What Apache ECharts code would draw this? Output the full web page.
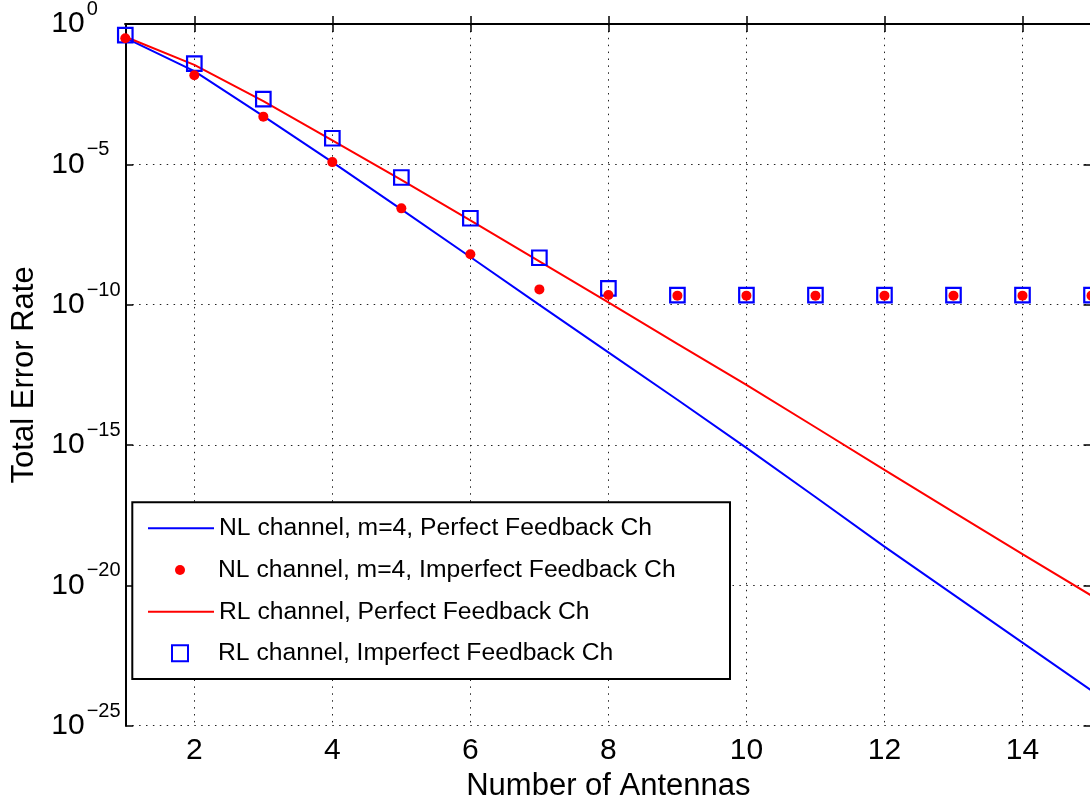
<!DOCTYPE html>
<html>
<head>
<meta charset="utf-8">
<script src="https://cdn.jsdelivr.net/npm/echarts@6/dist/echarts.min.js"></script>
<style>
  html, body { margin: 0; padding: 0; background: #fff; }
  #chart { width: 1090px; height: 803px; }
</style>
</head>
<body>
<div id="chart"></div>
<script>
// ---- data ----
const antennas = [1, 2, 3, 4, 5, 6, 7, 8, 9, 10, 11, 12, 13, 14, 15];
const xTicks = [2, 4, 6, 8, 10, 12, 14];
const seriesNames = [
  'NL channel, m=4, Perfect Feedback Ch',
  'NL channel, m=4, Imperfect Feedback Ch',
  'RL channel, Perfect Feedback Ch',
  'RL channel, Imperfect Feedback Ch'
];
const nlPerfect = [3.2e-1, 2.1e-2, 5.2e-4, 1.2e-5, 2.5e-7, 5.0e-9, 9.8e-11, 2.0e-12,
  4.1e-14, 7.9e-16, 1.4e-17, 2.4e-19, 4.7e-21, 9.1e-23, 1.8e-24];
const nlImperfect = [3.1e-1, 1.5e-2, 5.0e-4, 1.2e-5, 2.7e-7, 6.3e-9, 3.5e-10, 2.2e-10,
  2.1e-10, 2.1e-10, 2.1e-10, 2.1e-10, 2.1e-10, 2.1e-10, 2.1e-10];
const rlPerfect = [3.5e-1, 3.5e-2, 1.8e-3, 7.1e-5, 2.8e-6, 1.0e-7, 3.5e-9, 1.2e-10,
  4.0e-12, 1.4e-13, 4.3e-15, 1.3e-16, 4.1e-18, 1.3e-19, 4.3e-21];
const rlImperfect = [4.0e-1, 3.9e-2, 2.1e-3, 8.5e-5, 3.4e-6, 1.2e-7, 4.7e-9, 3.8e-10,
  2.2e-10, 2.2e-10, 2.2e-10, 2.2e-10, 2.2e-10, 2.2e-10, 2.2e-10];
const yExpMin = -25, yExpMax = 0, yExpStep = 5;

// ---- build ----
const FONT = "'Liberation Sans', Arial, Helvetica, sans-serif";
const toPts = arr => antennas.map((x, i) => [x, Math.log10(arr[i])]);
const BLUE = '#0000ff', RED = '#ff0000';

const chart = echarts.init(document.getElementById('chart'), null, { renderer: 'canvas' });

const dotted = { color: '#222', width: 1, type: [1.5, 5.4] };
const hidden = { color: 'rgba(0,0,0,0)', borderWidth: 0, opacity: 0 };

const legendRowCenters = [528.3, 570, 611.7, 653.3];
const legendIconH = [14, 12.5, 14, 20];
const legendItemStyles = [
  { lineStyle: { color: BLUE, width: 2 }, itemStyle: hidden },
  { lineStyle: { opacity: 0, width: 0 }, itemStyle: { color: RED, borderWidth: 0 } },
  { lineStyle: { color: RED, width: 2 }, itemStyle: hidden },
  { lineStyle: { opacity: 0, width: 0 }, itemStyle: { color: 'rgba(0,0,0,0)', borderColor: BLUE, borderWidth: 2 } }
];

const option = {
  animation: false,
  backgroundColor: '#fff',
  grid: { left: 125.3, right: -1.5, top: 24, bottom: 77.3, containLabel: false, outerBoundsMode: 'none' },
  xAxis: [
    {
      type: 'value', min: 1, max: 15, position: 'bottom',
      name: 'Number of Antennas', nameLocation: 'middle', nameGap: 43,
      nameTextStyle: { fontSize: 31, fontFamily: FONT, color: '#000' },
      axisLine: { show: true, lineStyle: { color: '#000', width: 2 } },
      axisTick: { show: true, inside: true, length: 8, customValues: xTicks, lineStyle: { color: '#000', width: 1.5 } },
      axisLabel: { show: true, customValues: xTicks, margin: 10, fontSize: 30, fontFamily: FONT, color: '#000' },
      splitLine: { show: true, lineStyle: dotted }
    },
    {
      type: 'value', min: 1, max: 15, position: 'top',
      axisLine: { show: true, lineStyle: { color: '#000', width: 2 } },
      axisTick: { show: true, inside: true, length: 8, customValues: xTicks, lineStyle: { color: '#000', width: 1.5 } },
      axisLabel: { show: false },
      splitLine: { show: false }
    }
  ],
  yAxis: [
    {
      type: 'value', min: yExpMin, max: yExpMax, interval: yExpStep, position: 'left',
      name: 'Total Error Rate', nameLocation: 'middle', nameGap: 85, nameRotate: 90,
      nameTextStyle: { fontSize: 31, fontFamily: FONT, color: '#000' },
      axisLine: { show: true, lineStyle: { color: '#000', width: 2 } },
      axisTick: { show: true, inside: true, length: 8, lineStyle: { color: '#000', width: 1.5 } },
      axisLabel: {
        show: true, align: 'left', margin: 74,
        formatter: v => '{b|10}{s|' + (v === 0 ? '0' : '\u2212' + (-v)) + '}',
        rich: {
          b: { fontSize: 30, fontFamily: FONT, color: '#000' },
          s: { fontSize: 20, fontFamily: FONT, color: '#000', padding: [0, 0, 29, 2] }
        }
      },
      splitLine: { show: true, lineStyle: dotted }
    },
    {
      type: 'value', min: yExpMin, max: yExpMax, interval: yExpStep, position: 'right',
      axisLine: { show: false },
      axisTick: { show: true, inside: true, length: 8, lineStyle: { color: '#000', width: 1.5 } },
      axisLabel: { show: false },
      splitLine: { show: false }
    }
  ],
  legend: seriesNames.map((n, i) => Object.assign({
    data: [n], orient: 'vertical', left: 147, top: legendRowCenters[i] - 15,
    padding: 0, itemWidth: 66, itemHeight: legendIconH[i], selectedMode: false,
    textStyle: { fontSize: 24.7, fontFamily: FONT, color: '#000', lineHeight: 30 }
  }, legendItemStyles[i])),
  graphic: [{
    type: 'rect', z: 3,
    shape: { x: 132.3, y: 502.3, width: 597.7, height: 176.7 },
    style: { fill: '#fff', stroke: '#000', lineWidth: 2 }
  }],
  series: [
    {
      name: seriesNames[0], type: 'line', data: toPts(nlPerfect), symbol: 'none',
      lineStyle: { color: BLUE, width: 2 }, itemStyle: { color: BLUE }, z: 2
    },
    {
      name: seriesNames[2], type: 'line', data: toPts(rlPerfect), symbol: 'none',
      lineStyle: { color: RED, width: 2 }, itemStyle: { color: RED }, z: 2
    },
    {
      name: seriesNames[3], type: 'line', data: toPts(rlImperfect),
      symbol: 'rect', symbolSize: 14.5, showSymbol: true,
      lineStyle: { width: 0, opacity: 0 },
      itemStyle: { color: 'rgba(0,0,0,0)', borderColor: BLUE, borderWidth: 2.2, opacity: 1 }, z: 3
    },
    {
      name: seriesNames[1], type: 'line', data: toPts(nlImperfect),
      symbol: 'circle', symbolSize: 10, showSymbol: true,
      lineStyle: { width: 0, opacity: 0 },
      itemStyle: { color: RED, borderWidth: 0, opacity: 1 }, z: 4
    }
  ]
};
chart.setOption(option);
</script>
</body>
</html>
